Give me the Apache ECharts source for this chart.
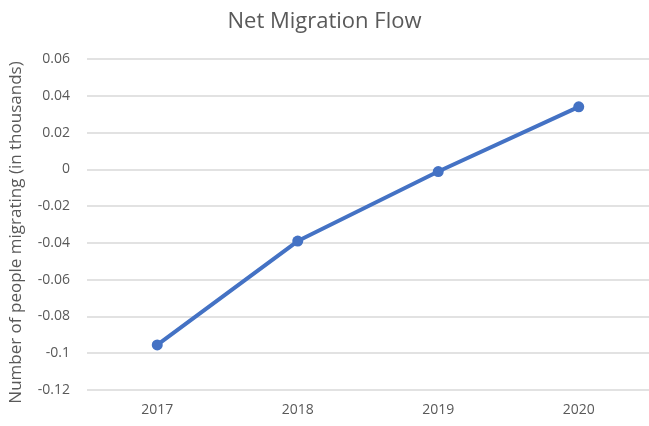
<!DOCTYPE html>
<html>
<head>
<meta charset="utf-8">
<script src="https://cdn.jsdelivr.net/npm/echarts@6/dist/echarts.min.js"></script>
<style>
  html, body { margin: 0; padding: 0; background: #fff; }
  #chart { width: 649px; height: 426px; }
</style>
</head>
<body>
<div id="chart"></div>
<script>
const years = ['2017', '2018', '2019', '2020']
const netFlow = [-0.0955, -0.039, -0.0012, 0.034]
const yTicks = { min: -0.12, max: 0.06, step: 0.02 }

const chart = echarts.init(document.getElementById('chart'))
const textColor = '#595959'

const option = {
  animation: false,
  title: {
    text: 'Net Migration Flow',
    left: 'center',
    top: 6,
    textStyle: {
      color: textColor,
      fontFamily: 'Open Sans',
      fontSize: 22,
      fontWeight: 'normal'
    }
  },
  grid: {
    left: 87,
    right: -4, // plot area runs past the right edge, as in the source
    top: 59,
    bottom: 36
  },
  xAxis: {
    type: 'category',
    data: years,
    boundaryGap: true,
    axisLine: { show: false },
    axisTick: { show: false },
    axisLabel: {
      color: textColor,
      fontFamily: 'Open Sans',
      fontSize: 14,
      margin: 13
    }
  },
  yAxis: {
    type: 'value',
    min: yTicks.min,
    max: yTicks.max,
    interval: yTicks.step,
    name: 'Number of people migrating (in thousands)',
    nameLocation: 'middle',
    nameGap: 62,
    nameTextStyle: {
      color: textColor,
      fontFamily: 'Open Sans',
      fontSize: 17,
      padding: [0, 16, 0, 0] // nudge down a little
    },
    axisLine: { show: false },
    axisTick: { show: false },
    splitLine: { lineStyle: { color: '#d9d9d9', width: 1.5 } },
    axisLabel: {
      color: textColor,
      fontFamily: 'Open Sans',
      fontSize: 14,
      margin: 17,
      formatter: v => String(Math.round(v * 100) / 100)
    }
  },
  series: [{
    type: 'line',
    data: netFlow,
    symbol: 'circle',
    symbolSize: 11,
    lineStyle: { color: '#4472c4', width: 4 },
    itemStyle: { color: '#4472c4' }
  }]
}
chart.setOption(option)
</script>
</body>
</html>
